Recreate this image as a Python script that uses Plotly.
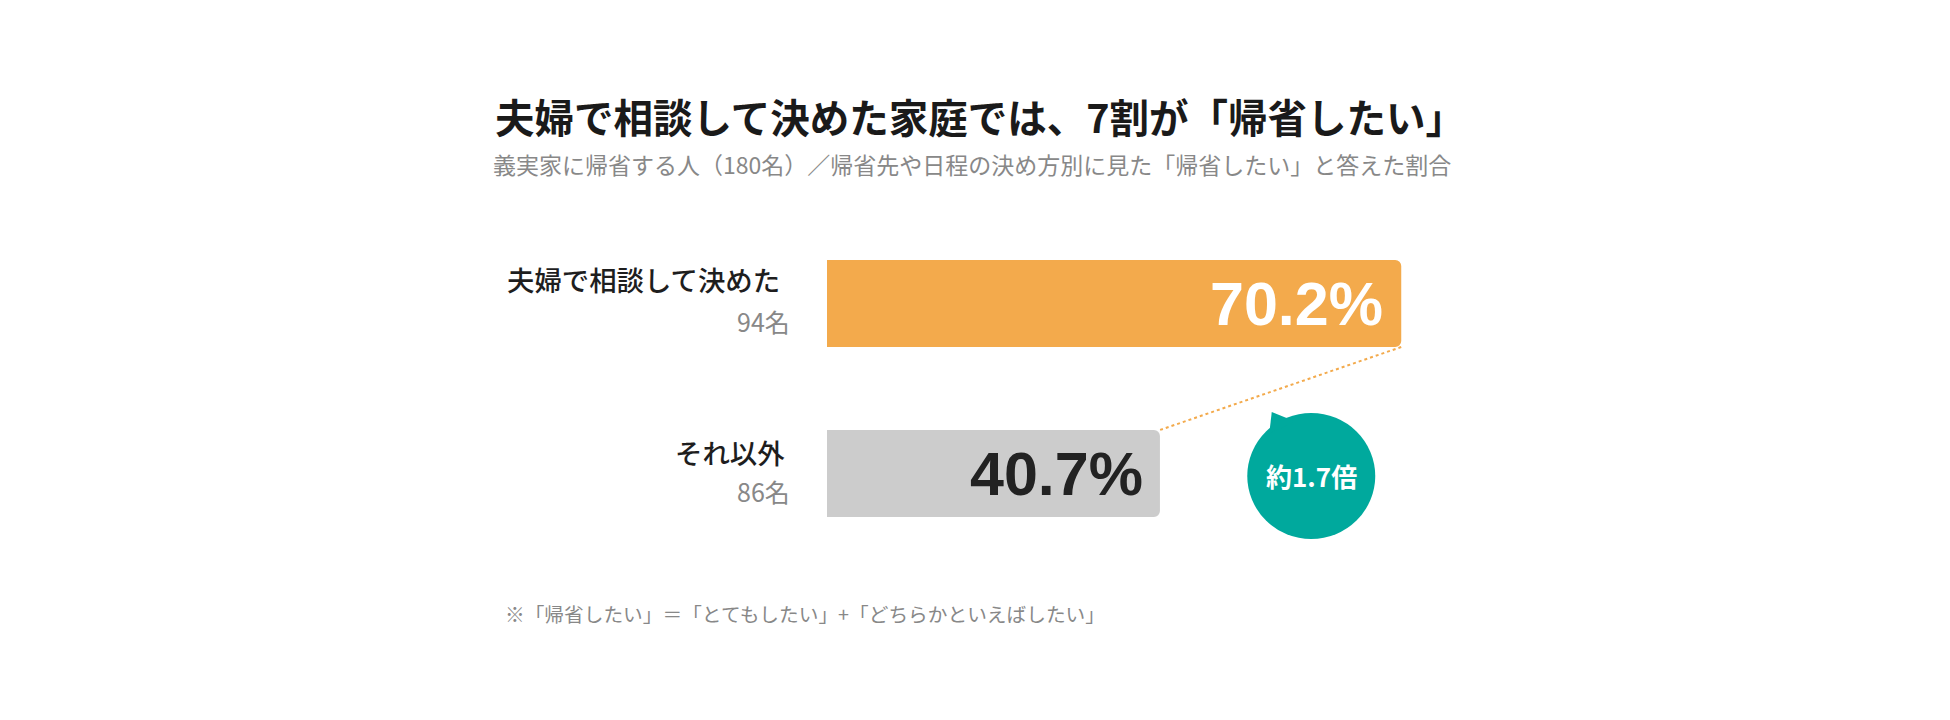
import plotly.graph_objects as go

# ---- data ----
categories = ["夫婦で相談して決めた", "それ以外"]
counts = ["94名", "86名"]
values = [70.2, 40.7]
value_labels = ["70.2%", "40.7%"]
ratio_label = "約1.7倍"
title_text = "夫婦で相談して決めた家庭では、7割が「帰省したい」"
subtitle_text = "義実家に帰省する人（180名）／帰省先や日程の決め方別に見た「帰省したい」と答えた割合"
note_text = "※「帰省したい」＝「とてもしたい」+「どちらかといえばしたい」"

# ---- styles ----
bar_colors = ["#F3AA4C", "#CCCCCC"]
label_colors = ["#FFFFFF", "#222222"]
TEAL = "#00A99D"
JP = "Noto Sans CJK JP"
NUM = "Liberation Sans"
W, H = 1950, 720
BAR_W = 0.512
O = 8  # page body margin offset


def px(x):
    return (x - O) / W


def py(y):
    return 1 - (y - O) / H


fig = go.Figure()
fig.add_trace(go.Bar(
    x=values, y=categories, orientation="h",
    marker=dict(color=bar_colors, line=dict(width=0)),
    width=BAR_W, hoverinfo="skip", showlegend=False,
))

annotations = []
annotations.append(dict(text=title_text, xref="paper", yref="paper", x=px(980), y=py(115),
                        xanchor="center", yanchor="middle", showarrow=False,
                        font=dict(family=JP, size=39.5, color="#1a1a1a", weight="bold")))
annotations.append(dict(text=subtitle_text, xref="paper", yref="paper", x=px(972), y=py(164),
                        xanchor="center", yanchor="middle", showarrow=False,
                        font=dict(family=JP, size=23, color="#888888")))
annotations.append(dict(text=note_text, xref="paper", yref="paper", x=px(503), y=py(613),
                        xanchor="left", yanchor="middle", showarrow=False,
                        font=dict(family=JP, size=19.7, color="#888888")))

label_shift = [24.5, 22]
label_xshift = [-45, -40]
count_shift = [-17.5, -17]
for i, cat in enumerate(categories):
    annotations.append(dict(text=cat, xref="x", yref="y", x=0, y=cat, xshift=label_xshift[i],
                            yshift=label_shift[i], xanchor="right", yanchor="middle",
                            showarrow=False,
                            font=dict(family=JP, size=27.4, color="#1e1e1e", weight=500)))
    annotations.append(dict(text=counts[i], xref="x", yref="y", x=0, y=cat, xshift=-35,
                            yshift=count_shift[i], xanchor="right", yanchor="middle",
                            showarrow=False, font=dict(family=JP, size=25, color="#888888")))
    annotations.append(dict(text=value_labels[i], xref="x", yref="y", x=values[i], y=cat,
                            xshift=-16 if i == 0 else -15, yshift=0, xanchor="right",
                            yanchor="middle", showarrow=False,
                            font=dict(family=NUM, size=61, color=label_colors[i], weight="bold")))

BX = 59.2
annotations.append(dict(text=ratio_label, xref="x", yref="y", x=BX, y=categories[1],
                        xanchor="center", yanchor="middle", yshift=-2, showarrow=False,
                        font=dict(family=JP, size=26, color="#FFFFFF", weight="bold")))

shapes = [
    dict(type="line", xref="x", yref="y", x0=values[0], y0=0 + BAR_W/2,
         x1=values[1], y1=1 - BAR_W/2, line=dict(color="#F3AA4C", width=2, dash="dot")),
    dict(type="circle", xref="x", yref="y", xsizemode="pixel", ysizemode="pixel",
         xanchor=BX, yanchor=1, x0=-64, x1=64, y0=-65.5, y1=60.5,
         fillcolor=TEAL, line=dict(width=0), layer="above"),
    dict(type="path", xref="x", yref="y", xsizemode="pixel", ysizemode="pixel",
         xanchor=BX, yanchor=1, path="M -42,40 L -39.5,61.5 L -16,52 Z",
         fillcolor=TEAL, line=dict(width=0), layer="above"),
]

fig.update_layout(
    width=W, height=H,
    margin=dict(l=0, r=0, t=0, b=0),
    paper_bgcolor="white", plot_bgcolor="white",
    barcornerradius=6,
    xaxis=dict(range=[0, 100], domain=[px(827), px(1645)], visible=False, fixedrange=True),
    yaxis=dict(type="category", categoryorder="array", categoryarray=categories,
               range=[1.5, -0.5], domain=[py(558.5), py(218.5)], visible=False, fixedrange=True),
    annotations=annotations,
    shapes=shapes,
    showlegend=False,
)

fig.write_html("out.html")
